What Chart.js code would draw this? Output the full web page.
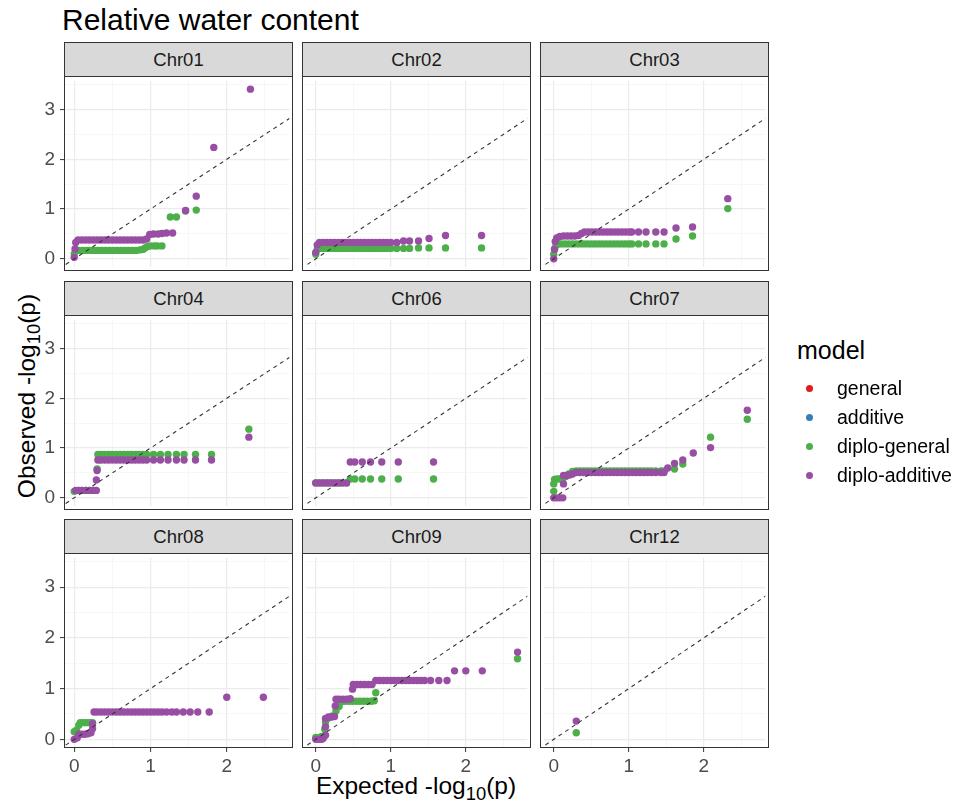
<!DOCTYPE html>
<html>
<head>
<meta charset="utf-8">
<title>Relative water content</title>
<script src="https://cdn.jsdelivr.net/npm/chart.js@4.4.1/dist/chart.umd.min.js"></script>
<style>
  body { margin: 0; background: #fff; font-family: 'Liberation Sans', Arial, sans-serif; }
  #fig { position: relative; width: 954px; height: 809px; overflow: hidden; }
  #fig canvas { position: absolute; }
  .title { position: absolute; left: 62px; top: 5px; font-size: 30px; line-height: 1; color: #000; white-space: nowrap; }
  .strip { position: absolute; box-sizing: border-box; border: 1px solid #333; background: #D9D9D9;
           color: #1A1A1A; font-size: 18.5px; line-height: 33px; text-align: center; }
  .frame { position: absolute; box-sizing: border-box; border: 1px solid #333; pointer-events: none; }
  .axis-title { position: absolute; font-size: 24.5px; line-height: 1; color: #000; white-space: nowrap; }
  .axis-title sub { font-size: 0.75em; line-height: 0; vertical-align: -0.3em; }
  .legend-title { position: absolute; left: 797px; top: 338px; font-size: 25px; line-height: 1; color: #000; }
  .legend-dot { position: absolute; width: 7px; height: 7px; border-radius: 50%; }
  .legend-label { position: absolute; left: 837px; font-size: 19.5px; line-height: 19.5px; color: #000; white-space: nowrap; }
</style>
</head>
<body>
<div id="fig">
  <div class="title">Relative water content</div>
  <div class="axis-title" style="left:416px; top:774px; transform:translateX(-50%);">Expected -log<sub>10</sub>(p)</div>
  <div class="axis-title" style="left:27px; top:396px; transform:translate(-50%,-50%) rotate(-90deg);">Observed -log<sub>10</sub>(p)</div>
  <div class="legend-title">model</div>
</div>
<script>
// facets and models
const chromosomes = ['Chr01', 'Chr02', 'Chr03', 'Chr04', 'Chr06', 'Chr07', 'Chr08', 'Chr09', 'Chr12'];
const models = ['general', 'additive', 'diplo-general', 'diplo-additive'];
const modelColors = ['#E41A1C', '#377EB8', '#4DAF4A', '#984EA3'];

// shared axes
const xRange = [-0.134, 2.82];
const yRange = [-0.17, 3.58];
const xTicks = [0, 0.5, 1, 1.5, 2, 2.5];
const yTicks = [0, 0.5, 1, 1.5, 2, 2.5, 3, 3.5];
const refLine = [[-0.2, -0.2], [3, 3]]; // y = x

const chr01DiploGeneral = [[0,0.1],[0.02,0.17],[0.06,0.17],[0.11,0.17],[0.16,0.17],[0.21,0.17],[0.26,0.17],[0.31,0.17],[0.36,0.17],[0.41,0.17],[0.46,0.17],[0.51,0.17],[0.56,0.17],[0.61,0.17],[0.66,0.17],[0.71,0.17],[0.76,0.17],[0.81,0.17],[0.86,0.18],[0.9,0.19],[0.93,0.22],[0.96,0.25],[1.0,0.26],[1.05,0.26],[1.09,0.26],[1.15,0.26],[1.26,0.84],[1.34,0.84],[1.46,0.96],[1.6,0.98]];
const chr01DiploAdditive = [[0,0.03],[0.01,0.2],[0.02,0.33],[0.05,0.38],[0.1,0.38],[0.15,0.38],[0.2,0.38],[0.25,0.38],[0.3,0.38],[0.35,0.38],[0.4,0.38],[0.45,0.38],[0.5,0.38],[0.55,0.38],[0.6,0.38],[0.65,0.38],[0.7,0.38],[0.75,0.38],[0.8,0.38],[0.85,0.38],[0.9,0.38],[0.95,0.4],[0.99,0.49],[1.04,0.5],[1.1,0.5],[1.15,0.51],[1.21,0.52],[1.29,0.52],[1.46,0.97],[1.6,1.26],[1.83,2.24],[2.31,3.41]];

const chr02DiploGeneral = [[0,0.09],[0.02,0.19],[0.05,0.21],[0.1,0.21],[0.15,0.21],[0.2,0.21],[0.25,0.21],[0.3,0.21],[0.35,0.21],[0.4,0.21],[0.45,0.21],[0.5,0.21],[0.55,0.21],[0.6,0.21],[0.65,0.21],[0.7,0.21],[0.75,0.21],[0.8,0.21],[0.85,0.21],[0.9,0.21],[0.95,0.21],[1.0,0.21],[1.08,0.21],[1.17,0.21],[1.25,0.21],[1.37,0.22],[1.51,0.22],[1.73,0.22],[2.21,0.22]];
const chr02DiploAdditive = [[0,0.13],[0.02,0.28],[0.05,0.33],[0.1,0.33],[0.15,0.33],[0.2,0.33],[0.25,0.33],[0.3,0.33],[0.35,0.33],[0.4,0.33],[0.45,0.33],[0.5,0.33],[0.55,0.33],[0.6,0.33],[0.65,0.33],[0.7,0.33],[0.75,0.33],[0.8,0.33],[0.85,0.33],[0.9,0.33],[0.95,0.33],[1.0,0.33],[1.08,0.33],[1.17,0.36],[1.25,0.36],[1.37,0.36],[1.51,0.41],[1.73,0.47],[2.21,0.47]];

const chr03DiploGeneral = [[0,0.09],[0.01,0.2],[0.03,0.27],[0.06,0.3],[0.1,0.3],[0.15,0.3],[0.2,0.3],[0.25,0.3],[0.3,0.3],[0.35,0.3],[0.4,0.3],[0.45,0.3],[0.5,0.3],[0.55,0.3],[0.6,0.3],[0.65,0.3],[0.7,0.3],[0.75,0.3],[0.8,0.3],[0.85,0.3],[0.9,0.3],[0.95,0.3],[1.0,0.3],[1.04,0.3],[1.13,0.3],[1.23,0.3],[1.36,0.3],[1.47,0.3],[1.63,0.4],[1.85,0.46],[2.32,1.01]];
const chr03DiploAdditive = [[0,0],[0.01,0.19],[0.02,0.35],[0.04,0.42],[0.08,0.45],[0.13,0.46],[0.18,0.46],[0.23,0.46],[0.28,0.46],[0.33,0.47],[0.37,0.51],[0.41,0.54],[0.46,0.54],[0.51,0.54],[0.56,0.54],[0.61,0.54],[0.66,0.54],[0.71,0.54],[0.76,0.54],[0.81,0.54],[0.86,0.54],[0.91,0.54],[0.96,0.54],[1.01,0.54],[1.04,0.54],[1.13,0.54],[1.23,0.54],[1.36,0.54],[1.47,0.54],[1.63,0.62],[1.85,0.64],[2.32,1.21]];

const chr04DiploGeneral = [[0,0.13],[0.05,0.15],[0.1,0.15],[0.15,0.15],[0.2,0.15],[0.25,0.15],[0.3,0.58],[0.31,0.87],[0.35,0.87],[0.4,0.87],[0.45,0.87],[0.5,0.87],[0.55,0.87],[0.6,0.87],[0.65,0.87],[0.7,0.87],[0.75,0.87],[0.8,0.87],[0.85,0.87],[0.9,0.87],[0.95,0.87],[1.04,0.87],[1.13,0.87],[1.23,0.87],[1.34,0.87],[1.44,0.87],[1.59,0.87],[1.8,0.87],[2.29,1.38]];
const chr04DiploAdditive = [[0.02,0.15],[0.06,0.15],[0.1,0.15],[0.15,0.15],[0.2,0.15],[0.25,0.15],[0.29,0.15],[0.29,0.36],[0.3,0.55],[0.31,0.76],[0.35,0.76],[0.4,0.76],[0.45,0.76],[0.5,0.76],[0.55,0.76],[0.6,0.76],[0.65,0.76],[0.7,0.76],[0.75,0.76],[0.8,0.76],[0.85,0.76],[0.9,0.76],[0.95,0.76],[1.04,0.76],[1.13,0.76],[1.23,0.76],[1.34,0.76],[1.44,0.76],[1.59,0.76],[1.8,0.76],[2.29,1.22]];

const chr06DiploGeneral = [[0,0.3],[0.05,0.3],[0.1,0.3],[0.15,0.3],[0.2,0.3],[0.25,0.3],[0.3,0.3],[0.35,0.3],[0.41,0.3],[0.46,0.38],[0.52,0.38],[0.62,0.38],[0.73,0.38],[0.88,0.38],[1.1,0.38],[1.57,0.38]];
const chr06DiploAdditive = [[0,0.3],[0.05,0.3],[0.1,0.3],[0.15,0.3],[0.2,0.3],[0.25,0.3],[0.3,0.3],[0.35,0.3],[0.41,0.3],[0.46,0.72],[0.52,0.72],[0.62,0.72],[0.73,0.72],[0.88,0.72],[1.1,0.72],[1.57,0.72]];

const chr07DiploGeneral = [[0,0.13],[0,0.28],[0.01,0.37],[0.04,0.38],[0.08,0.38],[0.12,0.39],[0.16,0.43],[0.2,0.48],[0.25,0.53],[0.3,0.54],[0.35,0.54],[0.4,0.54],[0.45,0.54],[0.5,0.54],[0.55,0.54],[0.6,0.54],[0.65,0.54],[0.7,0.54],[0.75,0.54],[0.8,0.54],[0.85,0.54],[0.9,0.54],[0.95,0.54],[1.0,0.54],[1.05,0.54],[1.1,0.54],[1.15,0.54],[1.2,0.54],[1.25,0.54],[1.3,0.54],[1.36,0.54],[1.43,0.54],[1.47,0.54],[1.61,0.58],[1.72,0.68],[2.09,1.22],[2.58,1.58]];
const chr07DiploAdditive = [[0,0],[0.04,0],[0.08,0],[0.12,0],[0.13,0.28],[0.13,0.45],[0.17,0.45],[0.21,0.46],[0.25,0.48],[0.3,0.51],[0.35,0.51],[0.4,0.51],[0.45,0.51],[0.5,0.51],[0.55,0.51],[0.6,0.51],[0.65,0.51],[0.7,0.51],[0.75,0.51],[0.8,0.51],[0.85,0.51],[0.9,0.51],[0.95,0.51],[1.0,0.51],[1.05,0.51],[1.1,0.51],[1.15,0.51],[1.2,0.51],[1.25,0.51],[1.3,0.51],[1.36,0.51],[1.43,0.51],[1.47,0.51],[1.52,0.6],[1.61,0.69],[1.72,0.76],[1.86,0.9],[2.09,1.01],[2.58,1.76]];

const chr08DiploGeneral = [[0,0.15],[0.03,0.18],[0.06,0.28],[0.08,0.33],[0.12,0.33],[0.16,0.33],[0.2,0.33],[0.24,0.33]];
const chr08DiploAdditive = [[0,0],[0.04,0.03],[0.06,0.1],[0.1,0.1],[0.14,0.1],[0.18,0.11],[0.22,0.13],[0.24,0.21],[0.24,0.31],[0.26,0.54],[0.3,0.54],[0.35,0.54],[0.4,0.54],[0.45,0.54],[0.5,0.54],[0.55,0.54],[0.6,0.54],[0.65,0.54],[0.7,0.54],[0.75,0.54],[0.8,0.54],[0.85,0.54],[0.9,0.54],[0.95,0.54],[1.0,0.54],[1.05,0.54],[1.1,0.54],[1.15,0.54],[1.21,0.54],[1.28,0.54],[1.34,0.54],[1.43,0.54],[1.52,0.54],[1.62,0.54],[1.77,0.54],[2.0,0.83],[2.48,0.83]];

const chr09DiploGeneral = [[0,0.04],[0.04,0.04],[0.08,0.06],[0.12,0.2],[0.13,0.34],[0.17,0.42],[0.22,0.46],[0.27,0.56],[0.31,0.65],[0.34,0.74],[0.39,0.75],[0.44,0.75],[0.49,0.75],[0.54,0.75],[0.59,0.75],[0.64,0.75],[0.69,0.75],[0.74,0.75],[0.78,0.76],[0.8,0.92],[2.69,1.59]];
const chr09DiploAdditive = [[0,0],[0.04,0],[0.08,0],[0.1,0.02],[0.13,0.08],[0.13,0.25],[0.13,0.41],[0.17,0.44],[0.21,0.44],[0.25,0.45],[0.26,0.66],[0.27,0.79],[0.31,0.79],[0.36,0.79],[0.41,0.79],[0.46,0.8],[0.49,0.99],[0.5,1.08],[0.55,1.08],[0.6,1.08],[0.65,1.08],[0.7,1.08],[0.75,1.08],[0.8,1.16],[0.85,1.16],[0.9,1.16],[0.95,1.16],[1.0,1.16],[1.05,1.16],[1.1,1.16],[1.15,1.16],[1.2,1.16],[1.25,1.16],[1.3,1.16],[1.35,1.16],[1.4,1.16],[1.45,1.16],[1.53,1.16],[1.64,1.16],[1.75,1.16],[1.85,1.35],[2.0,1.35],[2.22,1.35],[2.69,1.72]];

const chr12DiploGeneral = [[0.3,0.13]];
const chr12DiploAdditive = [[0.3,0.36]];

// general / additive have no points in any facet
const noPoints = [];

const seriesByChr = [
  [noPoints, noPoints, chr01DiploGeneral, chr01DiploAdditive],
  [noPoints, noPoints, chr02DiploGeneral, chr02DiploAdditive],
  [noPoints, noPoints, chr03DiploGeneral, chr03DiploAdditive],
  [noPoints, noPoints, chr04DiploGeneral, chr04DiploAdditive],
  [noPoints, noPoints, chr06DiploGeneral, chr06DiploAdditive],
  [noPoints, noPoints, chr07DiploGeneral, chr07DiploAdditive],
  [noPoints, noPoints, chr08DiploGeneral, chr08DiploAdditive],
  [noPoints, noPoints, chr09DiploGeneral, chr09DiploAdditive],
  [noPoints, noPoints, chr12DiploGeneral, chr12DiploAdditive]
];

// layout of the facet grid (px)
const colLeft = [64, 302, 540];
const rowTop = [42, 281, 519];
const panelW = 229, stripH = 35, plotH = 194;
const yAxisW = 26, xAxisH = 30;
const FONT = "'Liberation Sans', Arial, sans-serif";

const fig = document.getElementById('fig');

const isMajor = ctx => ctx.tick && Number.isInteger(ctx.tick.value);

function gridOpts(drawTicks) {
  return {
    color: ctx => isMajor(ctx) ? '#EBEBEB' : '#F3F3F3',
    lineWidth: ctx => isMajor(ctx) ? 1.2 : 0.7,
    drawTicks: drawTicks,
    tickLength: 4,
    tickWidth: 1,
    tickColor: ctx => isMajor(ctx) ? '#333333' : 'rgba(0,0,0,0)'
  };
}

function axis(range, tickVals, show, isX) {
  return {
    type: 'linear',
    min: range[0],
    max: range[1],
    border: { display: false },
    grid: gridOpts(show),
    afterBuildTicks: s => { s.ticks = tickVals.map(v => ({ value: v })); },
    afterFit: s => {
      if (isX) s.height = show ? xAxisH : 0; else s.width = show ? yAxisW : 0;
      s.paddingTop = 0; s.paddingBottom = 0; s.paddingLeft = 0; s.paddingRight = 0;
    },
    ticks: {
      display: show,
      autoSkip: false,
      maxRotation: 0,
      padding: isX ? 3 : 5,
      color: '#4D4D4D',
      font: { family: FONT, size: 19 },
      callback: v => Number.isInteger(v) ? String(v) : ''
    }
  };
}

chromosomes.forEach((chr, i) => {
  const r = Math.floor(i / 3), c = i % 3;
  const left = colLeft[c], top = rowTop[r];
  const showY = c === 0, showX = r === 2;

  const strip = document.createElement('div');
  strip.className = 'strip';
  Object.assign(strip.style, { left: left + 'px', top: top + 'px', width: panelW + 'px', height: stripH + 'px' });
  strip.textContent = chr;
  fig.appendChild(strip);

  const cv = document.createElement('canvas');
  const cw = panelW + (showY ? yAxisW : 0);
  const ch = plotH + (showX ? xAxisH : 0);
  cv.width = cw; cv.height = ch;
  Object.assign(cv.style, {
    left: (left - (showY ? yAxisW : 0)) + 'px', top: (top + stripH) + 'px',
    width: cw + 'px', height: ch + 'px'
  });
  fig.appendChild(cv);

  const series = seriesByChr[i];
  const datasets = [{
    label: 'y = x',
    data: refLine,
    showLine: true,
    borderColor: '#333333',
    borderWidth: 1.1,
    borderDash: [4, 4],
    pointRadius: 0,
    order: 0
  }];
  // diplo-additive drawn on top of diplo-general
  models.forEach((m, k) => {
    datasets.push({
      label: m,
      data: series[k],
      backgroundColor: modelColors[k],
      borderWidth: 0,
      pointRadius: 3.7,
      pointHoverRadius: 3.7,
      order: 4 - k
    });
  });

  new Chart(cv, {
    type: 'scatter',
    data: { datasets },
    options: {
      responsive: false,
      animation: false,
      devicePixelRatio: 1,
      layout: { padding: 0 },
      plugins: { legend: { display: false }, tooltip: { enabled: false } },
      scales: {
        x: axis(xRange, xTicks, showX, true),
        y: axis(yRange, yTicks, showY, false)
      }
    }
  });

  const frame = document.createElement('div');
  frame.className = 'frame';
  Object.assign(frame.style, { left: left + 'px', top: (top + stripH - 1) + 'px', width: panelW + 'px', height: (plotH + 1) + 'px' });
  fig.appendChild(frame);
});

// legend
const legendY = [388, 417, 446, 475];
models.forEach((m, k) => {
  const dot = document.createElement('div');
  dot.className = 'legend-dot';
  Object.assign(dot.style, { left: '806px', top: (legendY[k] - 3.5) + 'px', background: modelColors[k] });
  fig.appendChild(dot);
  const lab = document.createElement('div');
  lab.className = 'legend-label';
  lab.style.top = (legendY[k] + 1 - 9.75) + 'px';
  lab.textContent = m;
  fig.appendChild(lab);
});
</script>
</body>
</html>
